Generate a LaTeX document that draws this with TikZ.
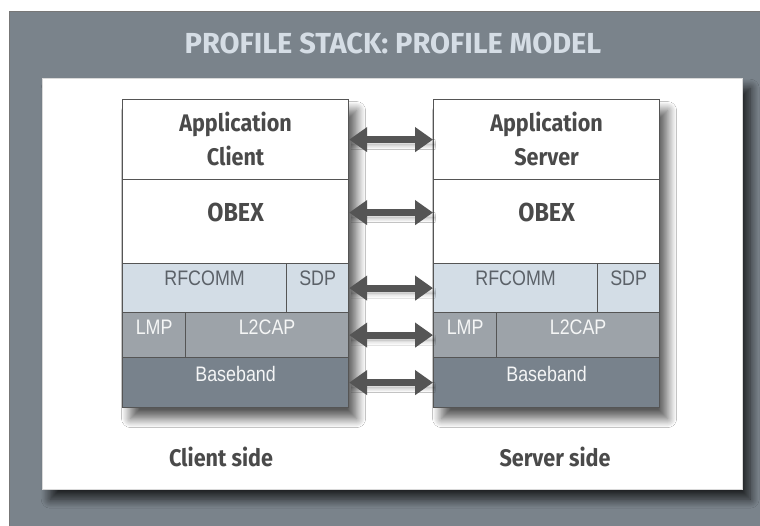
\documentclass[tikz,border=0pt]{standalone}
\usepackage{fontspec}
\usepackage{tikz}
\usetikzlibrary{arrows.meta}
\usetikzlibrary{shadows.blur}
\newfontfamily\headfont[FakeStretch=0.9]{Fira Sans}
\newfontfamily\titlefont{Fira Sans}
\newfontfamily\layerfont[FakeStretch=0.85]{Liberation Sans}
\definecolor{panelgray}{HTML}{7A838B}
\definecolor{titlegray}{HTML}{D5DDE5}
\definecolor{edgegray}{HTML}{555555}
\definecolor{inkgray}{HTML}{4A4A4A}
\definecolor{rfrow}{HTML}{D3DDE6}
\definecolor{rftext}{HTML}{5B6168}
\definecolor{l2row}{HTML}{9DA3A9}
\definecolor{bbrow}{HTML}{78828C}
\tikzset{cell/.style={draw=edgegray, line width=1.2pt, anchor=north west, inner sep=0pt},
 headtext/.style={text=inkgray, align=center, font=\headfont\bfseries\fontsize{24}{34}\selectfont},
 layertext/.style={anchor=north, inner sep=0pt, font=\layerfont\fontsize{21}{24}\selectfont},
 sidetext/.style={text=inkgray, font=\headfont\bfseries\fontsize{24}{28}\selectfont},
 duplex/.style={draw=edgegray, line width=7pt, {Triangle[length=18pt,width=24pt]}-{Triangle[length=18pt,width=24pt]},
   blur shadow={shadow xshift=2pt, shadow yshift=-5pt, shadow blur radius=5pt, shadow opacity=40}},
 }

\begin{document}
\begin{tikzpicture}[x=1pt, y=1pt]
    \useasboundingbox (0,0) rectangle (760,525);
    \fill[white] (0,0) rectangle (760,525);
    \node[draw=edgegray!80, fill=panelgray, minimum width=752pt, minimum height=516pt, anchor=north west, inner sep=0pt] (panel) at (9,514) {};
    \node[text=titlegray, font=\titlefont\bfseries\fontsize{29}{32}\selectfont] (title) at (393,482) {PROFILE STACK: PROFILE MODEL};
    \node[fill=white, draw=white!85!black, minimum width=700pt, minimum height=411pt, anchor=north west, inner sep=0pt,
        blur shadow={shadow xshift=8pt, shadow yshift=-10pt, shadow blur radius=9pt, shadow blur steps=12, shadow opacity=75}] (sheet) at (42,447) {};
    % the two stacks
    \foreach \s/\x/\app in {c/122/Client, s/433/Server} {
        \node[cell, fill=white, minimum width=226pt, minimum height=308pt,
            blur shadow={shadow xshift=8pt, shadow yshift=-11pt, shadow blur radius=9pt, shadow blur steps=12, shadow opacity=65}] (\s stack) at (\x,426) {};
        \node[cell, fill=white, minimum width=226pt, minimum height=80pt] (\s app) at (\x,426) {};
        \node[headtext, anchor=north] at ([yshift=-10pt]\s app.north) {Application\\\app};
        \node[cell, fill=white, minimum width=226pt, minimum height=84pt] (\s obex) at (\x,346) {};
        \node[headtext, anchor=north, font=\headfont\bfseries\fontsize{26}{30}\selectfont] at ([yshift=-21pt]\s obex.north) {OBEX};
        \node[cell, fill=rfrow, minimum width=164pt, minimum height=49pt,
            label={[layertext, text=rftext, yshift=-8pt]north:RFCOMM}] (\s rfcomm) at (\x,262) {};
        \node[cell, fill=rfrow, minimum width=62pt, minimum height=49pt,
            label={[layertext, text=rftext, yshift=-8pt]north:SDP}] (\s sdp) at (\x+164,262) {};
        \node[cell, fill=l2row, minimum width=63pt, minimum height=45pt,
            label={[layertext, text=white!90!l2row, yshift=-8pt]north:LMP}] (\s lmp) at (\x,213) {};
        \node[cell, fill=l2row, minimum width=163pt, minimum height=45pt,
            label={[layertext, text=white!90!l2row, yshift=-8pt]north:L2CAP}] (\s l2cap) at (\x+63,213) {};
        \node[cell, fill=bbrow, minimum width=226pt, minimum height=50pt,
            label={[layertext, text=white!92!bbrow, yshift=-9pt]north:Baseband}] (\s base) at (\x,168) {};
    }
    % peer links
    \draw[duplex] (capp.east) -- (sapp.west);
    \draw[duplex] ([yshift=9pt]cobex.east) -- ([yshift=9pt]sobex.west);
    \draw[duplex] (csdp.east) -- (srfcomm.west);
    \draw[duplex] (cl2cap.east) -- (slmp.west);
    \draw[duplex] (cbase.east) -- (sbase.west);
    \node[sidetext] (cside) at (221,68) {Client side};
    \node[sidetext] (sside) at (555,68) {Server side};
\end{tikzpicture}
\end{document}
